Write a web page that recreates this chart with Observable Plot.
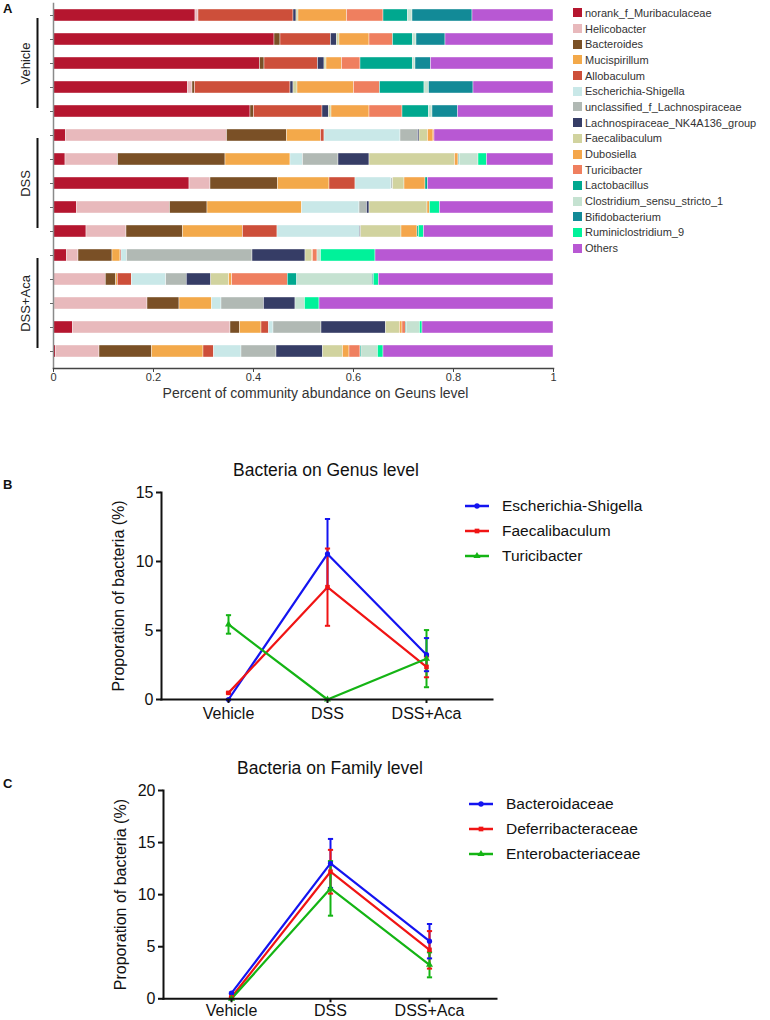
<!DOCTYPE html>
<html><head><meta charset="utf-8">
<script src="https://cdn.jsdelivr.net/npm/d3@7"></script>
<script src="https://cdn.jsdelivr.net/npm/@observablehq/plot@0.6"></script>
<style>
body{margin:0;background:#fff;font-family:"Liberation Sans",Arial,sans-serif;}
#wrap{position:relative;width:770px;height:1020px;overflow:hidden;background:#fff;}
.plabel{position:absolute;font-weight:bold;font-size:13px;color:#111;}
.title{position:absolute;font-size:17.5px;color:#111;white-space:nowrap;transform:translate(-50%,-50%);}
.lgA{position:absolute;left:573px;font-size:11px;color:#333;}
.lgA div{display:flex;align-items:center;height:15.7px;white-space:nowrap;}
.lgA span.sw{display:inline-block;width:9px;height:9px;margin-right:3px;}
.lgL{position:absolute;font-size:15.5px;color:#111;}
.lgL div{display:flex;align-items:center;height:25px;white-space:nowrap;}
.lgL svg{margin-right:13px;}
</style></head><body><div id="wrap"></div>
<script>
// ---------- Panel A data ----------
const genera = ["norank_f_Muribaculaceae","Helicobacter","Bacteroides","Mucispirillum","Allobaculum",
  "Escherichia-Shigella","unclassified_f_Lachnospiraceae","Lachnospiraceae_NK4A136_group","Faecalibaculum",
  "Dubosiella","Turicibacter","Lactobacillus","Clostridium_sensu_stricto_1","Bifidobacterium","Ruminiclostridium_9","Others"];
const generaColors = ["#B5162F","#E8B9BC","#7A5026","#F3A94A","#CD4F3A","#C9E8E8","#B1B9B4","#363D66","#D1D39F",
  "#F4A64B","#EF7F5F","#00A88F","#C5E2D1","#128A97","#00F29A","#B858D3"];
const samples = ["V1","V2","V3","V4","V5","D1","D2","D3","D4","D5","A1","A2","A3","A4","A5"];
const groupNames = ["Vehicle","DSS","DSS+Aca"];
const V1 = [0.284,0.006,0,0,0.19,0,0,0.006,0.004,0.097,0.073,0.049,0.009,0.12,0,0.162];
const V2 = [0.442,0,0.012,0,0.101,0,0,0.012,0.005,0.06,0.047,0.04,0.007,0.058,0,0.216];
const V3 = [0.413,0,0.009,0,0.107,0,0,0.013,0.004,0.031,0.037,0.105,0.005,0.031,0,0.245];
const V4 = [0.269,0.009,0.005,0,0.191,0,0,0.006,0.008,0.113,0.052,0.089,0.009,0.089,0,0.16];
const V5 = [0.394,0,0.007,0,0.137,0,0,0.013,0.005,0.076,0.066,0.053,0.007,0.051,0,0.191];
const D1 = [0.025,0.322,0.12,0.068,0.007,0.152,0.035,0.003,0.017,0.011,0.002,0,0,0,0,0.238];
const D2 = [0.024,0.105,0.215,0.13,0,0.025,0.071,0.062,0.171,0.007,0.001,0.002,0.037,0,0.017,0.133];
const D3 = [0.272,0.042,0.135,0.103,0.052,0.072,0.003,0,0.023,0.042,0,0.005,0,0,0,0.251];
const D4 = [0.047,0.186,0.075,0.189,0,0.115,0.015,0.005,0.116,0.005,0,0,0,0,0.02,0.227];
const D5 = [0.066,0.08,0.113,0.12,0.069,0.165,0,0.002,0.081,0.032,0,0.003,0,0,0.01,0.259];
const A1 = [0.027,0.023,0.068,0.016,0.002,0.011,0.251,0.106,0.013,0.002,0.009,0,0.007,0,0.109,0.356];
const A2 = [0.0015,0.103,0.021,0.003,0.028,0.069,0.041,0.049,0.036,0.006,0.111,0.019,0.151,0.002,0.01,0.3495];
const A3 = [0.002,0.186,0.064,0.065,0,0.019,0.085,0.063,0,0,0,0,0.019,0,0.029,0.468];
const A4 = [0.039,0.315,0.019,0.043,0.015,0.009,0.096,0.129,0.028,0.005,0.007,0.002,0.026,0,0.005,0.262];
const A5 = [0.005,0.087,0.105,0.103,0.021,0.055,0.07,0.093,0.04,0.013,0.022,0.002,0.033,0,0.011,0.34];
const sampleValues = [V1,V2,V3,V4,V5,D1,D2,D3,D4,D5,A1,A2,A3,A4,A5];
const xTicksA = [0,0.2,0.4,0.6,0.8,1];
const xLabelA = "Percent of community abundance on Geuns level";

// ---------- Panel B / C data ----------
const groups = ["Vehicle","DSS","DSS+Aca"];
const seriesColors = ["#1414F0","#F01414","#14B414"];
const seriesSymbols = ["circle","square","triangle"];
const seriesB = ["Escherichia-Shigella","Faecalibaculum","Turicibacter"];
const meanB_Esch = [0, 10.55, 3.25], sdB_Esch = [0, 2.53, 1.2];
const meanB_Faec = [0.48, 8.14, 2.36], sdB_Faec = [0.05, 2.8, 0.75];
const meanB_Turi = [5.44, 0, 2.96], sdB_Turi = [0.67, 0, 2.07];
const seriesC = ["Bacteroidaceae","Deferribacteraceae","Enterobacteriaceae"];
const meanC_Bact = [0.54, 13.0, 5.53], sdC_Bact = [0.05, 2.35, 1.65];
const meanC_Defe = [0.15, 12.2, 4.7], sdC_Defe = [0.05, 2.1, 1.8];
const meanC_Ente = [0, 10.6, 3.26], sdC_Ente = [0, 2.62, 1.2];
const yTicksB = [0,5,10,15], yTicksC = [0,5,10,15,20];
const titleB = "Bacteria on Genus level", titleC = "Bacteria on Family level";
const yLabel = "Proporation of bacteria (%)";

const wrap = document.getElementById("wrap");
function place(el, left, top){ el.style.position="absolute"; el.style.left=left+"px"; el.style.top=top+"px"; wrap.appendChild(el); return el; }

// ---------- Panel A ----------
const tableA = [];
samples.forEach((s,i)=>sampleValues[i].forEach((v,j)=>tableA.push({sample:s, genus:genera[j], value:v})));
const groupInfo = groupNames.map((g,k)=>({name:g, first:samples[k*5], mid:samples[k*5+2], last:samples[k*5+4]}));

const plotA = Plot.plot({
  width: 570, height: 410, marginLeft: 53, marginRight: 17, marginTop: 3, marginBottom: 42,
  style: {fontFamily: "Liberation Sans, Arial, sans-serif", overflow: "visible"},
  x: {domain: [0,1], label: null},
  y: {domain: samples, range: [3, 363], paddingInner: 0.5, paddingOuter: 0.25, label: null},
  color: {domain: genera, range: generaColors},
  marks: [
    Plot.barX(tableA, Plot.stackX({x: "value", y: "sample", fill: "genus", order: genera, stroke: "white", strokeWidth: 0.4})),
    Plot.frame({anchor: "left", stroke: "#8a8a8a", strokeWidth: 1.5}),
    Plot.frame({anchor: "bottom", stroke: "#444", strokeWidth: 1.5}),
    Plot.axisY({tickSize: 3, tickFormat: () => "", stroke: "#666", label: null}),
    Plot.axisX({ticks: xTicksA, tickSize: 4, tickPadding: 1, fontSize: 11, fill: "#333", stroke: "#444", label: null,
      tickFormat: d => String(d)}),
    Plot.text([xLabelA], {frameAnchor: "bottom", text: d => d, dx: 12, dy: 29, fontSize: 14, fill: "#333"}),
    Plot.ruleX(groupInfo, {x: 0, y1: "first", y2: "last", dx: -16, insetTop: 9, insetBottom: 9, strokeWidth: 2, stroke: "#111"}),
    Plot.text(groupInfo, {x: 0, y: "mid", text: "name", dx: -28, rotate: -90, fontSize: 13, fill: "#222"})
  ]
});
place(plotA, 0, 0);

const lgA = document.createElement("div"); lgA.className = "lgA";
genera.forEach((g,i)=>{ const r=document.createElement("div"); r.innerHTML=`<span class="sw" style="background:${generaColors[i]}"></span>${g}`; lgA.appendChild(r); });
place(lgA, 573, 5);

// ---------- Line panels ----------
const capSymbol = {draw(ctx){ ctx.moveTo(-2.6,0); ctx.lineTo(2.6,0); }};
function lineTable(series, means, sds){
  const t=[]; series.forEach((s,i)=>groups.forEach((g,j)=>t.push({series:s, group:g, mean:means[i][j], lo:means[i][j]-sds[i][j], hi:means[i][j]+sds[i][j]}))); return t;
}
function linePlot(data, series, yMax, yTicks, opts){
  return Plot.plot({
    width: opts.width, height: opts.height, marginLeft: opts.left, marginRight: opts.width - opts.right,
    marginTop: opts.top, marginBottom: opts.bottom,
    style: {fontFamily: "Liberation Sans, Arial, sans-serif", overflow: "visible", color: "#111"},
    x: {type: "point", domain: groups, range: opts.xr, padding: 0, label: null},
    y: {domain: [0, yMax], label: null},
    color: {domain: series, range: seriesColors},
    symbol: {domain: series, range: seriesSymbols},
    marks: [
      Plot.ruleX(data, {x: "group", y1: "lo", y2: "hi", stroke: "series", strokeWidth: 2}),
      Plot.dot(data, {x: "group", y: "hi", symbol: capSymbol, stroke: "series", strokeWidth: 2}),
      Plot.dot(data, {x: "group", y: "lo", symbol: capSymbol, stroke: "series", strokeWidth: 2}),
      Plot.line(data, {x: "group", y: "mean", z: "series", stroke: "series", strokeWidth: 2.2}),
      Plot.dot(data, {x: "group", y: "mean", symbol: "series", fill: "series", r: 2.6}),
      Plot.frame({anchor: "left", strokeWidth: 2, stroke: "#111"}),
      Plot.frame({anchor: "bottom", strokeWidth: 2, stroke: "#111"}),
      Plot.axisY({ticks: yTicks, tickSize: 5, tickPadding: 3, fontSize: 16, strokeWidth: 2, label: null, tickFormat: d => String(d)}),
      Plot.axisX({tickSize: 4, tickPadding: opts.xpad, fontSize: 16, strokeWidth: 2, label: null}),
      Plot.text([yLabel], {frameAnchor: "left", textAnchor: "middle", text: d => d, dx: -43, rotate: -90, fontSize: 16, fill: "#111"})
    ]
  });
}
function lineLegend(series, left, top){
  const d=document.createElement("div"); d.className="lgL";
  series.forEach((s,i)=>{
    const sym = d3.symbol(i===0?d3.symbolCircle:i===1?d3.symbolSquare:d3.symbolTriangle, 22)();
    const r=document.createElement("div");
    r.innerHTML=`<svg width="24" height="10"><line x1="0" x2="24" y1="5" y2="5" stroke="${seriesColors[i]}" stroke-width="2.5"/><path d="${sym}" transform="translate(12,5)" fill="${seriesColors[i]}"/></svg>${s}`;
    d.appendChild(r);
  });
  place(d, left, top);
}
function addTitle(text, cx, cy){ const t=document.createElement("div"); t.className="title"; t.textContent=text; place(t, cx, cy); }
function addPanelLabel(text, x, y){ const t=document.createElement("div"); t.className="plabel"; t.textContent=text; place(t, x, y); }

const dataB = lineTable(seriesB, [meanB_Esch, meanB_Faec, meanB_Turi], [sdB_Esch, sdB_Faec, sdB_Turi]);
const plotB = linePlot(dataB, seriesB, 15, yTicksB, {width: 560, height: 290, left: 161, right: 492, top: 52, bottom: 31, xr: [227, 426], xpad: 4});
place(plotB, 0, 440);
addTitle(titleB, 326, 470);
lineLegend(seriesB, 465, 493.5);

const dataC = lineTable(seriesC, [meanC_Bact, meanC_Defe, meanC_Ente], [sdC_Bact, sdC_Defe, sdC_Ente]);
const plotC = linePlot(dataC, seriesC, 20, yTicksC, {width: 560, height: 290, left: 163, right: 496, top: 60, bottom: 21.7, xr: [230, 429.3], xpad: 2});
place(plotC, 0, 730);
addTitle(titleC, 330, 768);
lineLegend(seriesC, 469, 791.5);

addPanelLabel("A", 3, 1);
addPanelLabel("B", 3, 477);
addPanelLabel("C", 3, 776);
</script></body></html>
